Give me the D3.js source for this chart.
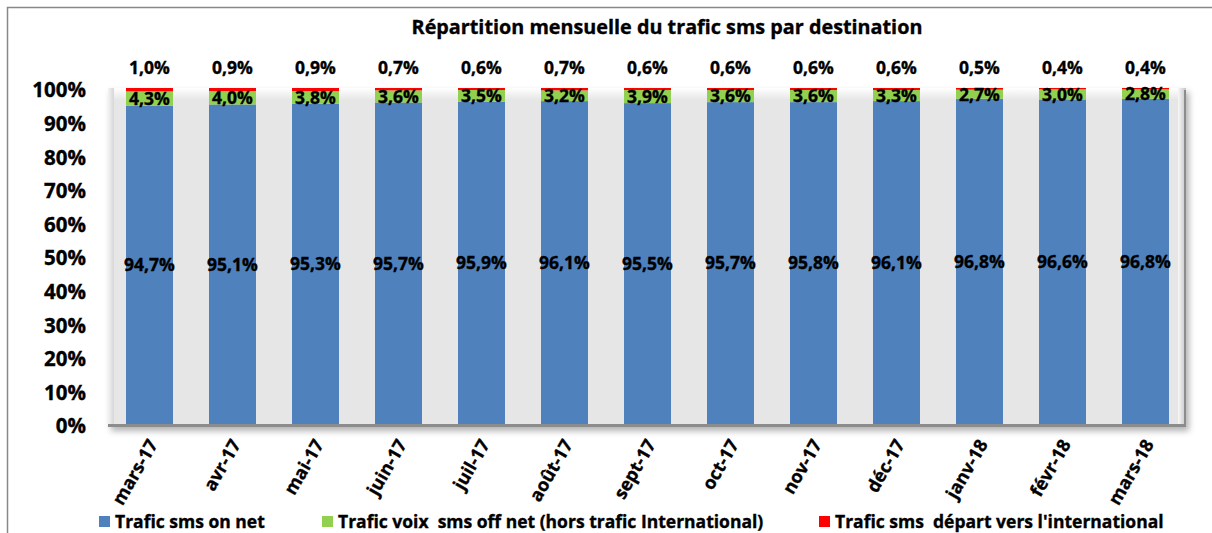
<!DOCTYPE html>
<html>
<head>
<meta charset="utf-8">
<script src="https://cdnjs.cloudflare.com/ajax/libs/d3/7.8.5/d3.min.js"></script>
<style>
  body { margin: 0; background: #fff; }
  svg { font-family: "Open Sans", sans-serif; font-weight: bold; }
  svg text { stroke: #000; stroke-width: 0.35px; }
</style>
</head>
<body>
<svg id="chart" width="1212" height="533"></svg>
<script>
var months = ["mars-17", "avr-17", "mai-17", "juin-17", "juil-17", "août-17", "sept-17",
              "oct-17", "nov-17", "déc-17", "janv-18", "févr-18", "mars-18"];
var onNet = [94.7, 95.1, 95.3, 95.7, 95.9, 96.1, 95.5, 95.7, 95.8, 96.1, 96.8, 96.6, 96.8];
var offNet = [4.3, 4.0, 3.8, 3.6, 3.5, 3.2, 3.9, 3.6, 3.6, 3.3, 2.7, 3.0, 2.8];
var intl = [1.0, 0.9, 0.9, 0.7, 0.6, 0.7, 0.6, 0.6, 0.6, 0.6, 0.5, 0.4, 0.4];
var yTicks = [0, 10, 20, 30, 40, 50, 60, 70, 80, 90, 100];
var seriesNames = ["Trafic sms on net", "Trafic voix  sms off net (hors trafic International)",
                   "Trafic sms  départ vers l'international"];
var colors = ["#4f81bd", "#92d050", "#ff0000"];

var svg = d3.select("#chart");

// outer frame (only top and left visible)
svg.append("path")
    .attr("d", "M7.5,533 V7.5 H1212")
    .style("fill", "none")
    .style("stroke", "#888")
    .style("stroke-width", 1.5);

var x = d3.scaleBand()
    .domain(months)
    .range([108, 1187])
    .paddingInner(0.434)
    .paddingOuter(0.217);

var y = d3.scaleLinear()
    .domain([0, 100])
    .range([424, 88]);

var x0 = x.range()[0], x1 = x.range()[1] - 1;
var yTop = y(100), yBot = y(0);

// wall gradients + shadow
var defs = svg.append("defs");
var filt = defs.append("filter").attr("id", "shadow")
    .attr("x", "-5%").attr("y", "-5%").attr("width", "110%").attr("height", "115%");
filt.append("feDropShadow").attr("dx", 3).attr("dy", 4).attr("stdDeviation", 3)
    .attr("flood-color", "#000").attr("flood-opacity", 0.3);

function hGrad(id, c1, c2) {
    var g = defs.append("linearGradient").attr("id", id)
        .attr("x1", 0).attr("y1", 0).attr("x2", 1).attr("y2", 0);
    g.append("stop").attr("offset", "0%").attr("stop-color", c1);
    g.append("stop").attr("offset", "100%").attr("stop-color", c2);
}
function vGrad(id, c1, c2) {
    var g = defs.append("linearGradient").attr("id", id)
        .attr("x1", 0).attr("y1", 0).attr("x2", 0).attr("y2", 1);
    g.append("stop").attr("offset", "0%").attr("stop-color", c1);
    g.append("stop").attr("offset", "100%").attr("stop-color", c2);
}
hGrad("leftBevel", "#f4f4f4", "#d6d6d6");
hGrad("rightBevel", "#f8f8f8", "#c4c4c4");
vGrad("topBevel", "#ffffff", "#e6e6e6");

// wall body with shadow
svg.append("rect")
    .attr("x", x0)
    .attr("y", yTop)
    .attr("width", x1 - x0)
    .attr("height", yBot - yTop + 3)
    .style("fill", "#e6e6e6")
    .attr("filter", "url(#shadow)");

svg.append("rect")
    .attr("x", x0).attr("y", yTop)
    .attr("width", x1 - x0).attr("height", 12)
    .style("fill", "url(#topBevel)");
svg.append("rect")
    .attr("x", x0).attr("y", yTop)
    .attr("width", 6).attr("height", yBot - yTop)
    .style("fill", "url(#leftBevel)");
svg.append("rect")
    .attr("x", x1 - 8).attr("y", yTop)
    .attr("width", 8).attr("height", yBot - yTop)
    .style("fill", "url(#rightBevel)");
svg.append("rect")
    .attr("x", x1 - 2).attr("y", yTop + 2)
    .attr("width", 2).attr("height", yBot - yTop + 1)
    .style("fill", "#8c8c8c");
svg.append("rect")
    .attr("x", x0).attr("y", yBot)
    .attr("width", x1 - x0).attr("height", 3)
    .style("fill", "#8c8c8c");

// stacked data
var rows = months.map(function(m, i) {
    var tot = onNet[i] + offNet[i] + intl[i];
    return { month: m, vals: [onNet[i], offNet[i], intl[i]], tot: tot };
});

var stackData = [];
rows.forEach(function(r) {
    var acc = 0;
    r.vals.forEach(function(v, k) {
        var v0 = acc / r.tot * 100;
        acc += v;
        var v1 = acc / r.tot * 100;
        stackData.push({ month: r.month, k: k, v: v, y0: v0, y1: v1 });
    });
});

svg.selectAll("rect.bar")
    .data(stackData)
    .enter()
    .append("rect")
    .attr("class", "bar")
    .attr("x", function(d) { return x(d.month); })
    .attr("y", function(d) { return y(d.y1); })
    .attr("width", x.bandwidth())
    .attr("height", function(d) { return y(d.y0) - y(d.y1); })
    .style("fill", function(d) { return colors[d.k]; });

function fmt(v) { return v.toFixed(1).replace(".", ",") + "%"; }

// value labels
svg.selectAll("text.val")
    .data(stackData)
    .enter()
    .append("text")
    .attr("class", "val")
    .attr("x", function(d) { return x(d.month) + x.bandwidth() / 2; })
    .attr("y", function(d) {
        if (d.k == 2) return y(100) - 20;
        return (y(d.y0) + y(d.y1)) / 2;
    })
    .attr("dy", "0.36em")
    .attr("text-anchor", "middle")
    .attr("font-size", "17.5px")
    .attr("fill", "#000")
    .text(function(d) { return fmt(d.v); });

// y axis labels
svg.selectAll("text.ytick")
    .data(yTicks)
    .enter()
    .append("text")
    .attr("class", "ytick")
    .attr("x", 86)
    .attr("y", function(d) { return y(d) + 2; })
    .attr("dy", "0.36em")
    .attr("text-anchor", "end")
    .attr("font-size", "20.5px")
    .text(function(d) { return d + "%"; });

// x axis labels
svg.selectAll("text.xtick")
    .data(months)
    .enter()
    .append("text")
    .attr("class", "xtick")
    .attr("transform", function(d) {
        return "translate(" + (x(d) + x.bandwidth() / 2 + 9) + ",444) rotate(-60)";
    })
    .attr("text-anchor", "end")
    .attr("font-size", "18px")
    .text(function(d) { return d; });

// title
svg.append("text")
    .attr("x", 667)
    .attr("y", 34)
    .attr("text-anchor", "middle")
    .attr("font-size", "19.8px")
    .text("Répartition mensuelle du trafic sms par destination");

// legend
var legendX = [99, 322, 819];
var lg = svg.selectAll("g.legend")
    .data(seriesNames)
    .enter()
    .append("g")
    .attr("class", "legend")
    .attr("transform", function(d, i) { return "translate(" + legendX[i] + ",516)"; });
lg.append("rect")
    .attr("width", 11)
    .attr("height", 11)
    .style("fill", function(d, i) { return colors[i]; });
lg.append("text")
    .attr("x", 16)
    .attr("y", 6)
    .attr("dy", "0.36em")
    .attr("font-size", "17.5px")
    .style("white-space", "pre")
    .text(function(d) { return d; });
</script>
</body>
</html>
